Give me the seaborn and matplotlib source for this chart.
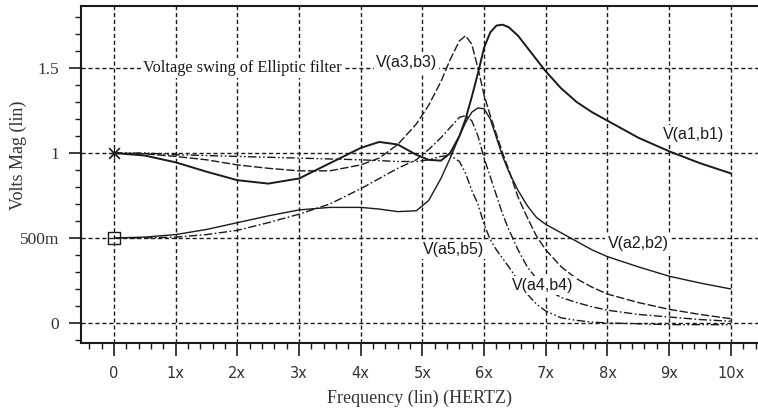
import numpy as np
import pandas as pd
import matplotlib
matplotlib.use("Agg")
import matplotlib.pyplot as plt
from matplotlib.ticker import MultipleLocator, FixedLocator, FixedFormatter
import seaborn as sns

# ---------------- data ----------------
freq = [0, 0.5, 1, 1.5, 2, 2.5, 3, 3.5, 4, 4.3, 4.6, 4.9, 5.1, 5.3, 5.45, 5.6,
        5.7, 5.8, 5.9, 6.0, 6.1, 6.2, 6.3, 6.4, 6.55, 6.7, 6.85, 7.0, 7.25,
        7.5, 7.75, 8, 8.5, 9, 9.5, 10]

v_a1b1 = [1.0, 0.985, 0.945, 0.89, 0.84, 0.82, 0.85, 0.94, 1.03, 1.065, 1.05,
          0.99, 0.96, 0.955, 1.0, 1.10, 1.20, 1.33, 1.47, 1.62, 1.71, 1.75,
          1.755, 1.74, 1.69, 1.62, 1.55, 1.48, 1.38, 1.30, 1.24, 1.19, 1.09,
          1.01, 0.94, 0.88]

v_a2b2 = [0.5, 0.505, 0.52, 0.55, 0.59, 0.63, 0.665, 0.68, 0.68, 0.67, 0.655,
          0.66, 0.72, 0.85, 0.97, 1.10, 1.18, 1.24, 1.265, 1.26, 1.20, 1.09,
          0.98, 0.89, 0.78, 0.69, 0.62, 0.58, 0.53, 0.48, 0.43, 0.39, 0.33,
          0.275, 0.235, 0.20]

v_a3b3 = [1.0, 0.995, 0.98, 0.96, 0.93, 0.91, 0.895, 0.895, 0.93, 0.97, 1.05,
          1.17, 1.28, 1.42, 1.55, 1.66, 1.69, 1.64, 1.50, 1.34, 1.22, 1.11,
          1.0, 0.90, 0.74, 0.62, 0.51, 0.43, 0.33, 0.26, 0.21, 0.17, 0.12,
          0.08, 0.05, 0.025]

v_a4b4 = [0.5, 0.5, 0.505, 0.52, 0.545, 0.59, 0.64, 0.70, 0.79, 0.85, 0.91,
          0.96, 1.02, 1.09, 1.15, 1.21, 1.22, 1.19, 1.10, 0.97, 0.86, 0.75,
          0.64, 0.55, 0.43, 0.33, 0.26, 0.20, 0.15, 0.12, 0.095, 0.075, 0.05,
          0.035, 0.02, 0.01]

v_a5b5 = [1.0, 1.0, 0.99, 0.985, 0.98, 0.975, 0.97, 0.965, 0.96, 0.955, 0.95,
          0.95, 0.96, 0.98, 0.985, 0.95, 0.88, 0.78, 0.70, 0.58, 0.49, 0.43,
          0.38, 0.33, 0.25, 0.17, 0.11, 0.07, 0.03, 0.015, 0.005, 0.0, -0.005,
          -0.01, -0.01, -0.01]

x_ticks = [0, 1, 2, 3, 4, 5, 6, 7, 8, 9, 10]
x_tick_labels = ["0", "1x", "2x", "3x", "4x", "5x", "6x", "7x", "8x", "9x", "10x"]
y_ticks = [0, 0.5, 1, 1.5]
y_tick_labels = ["0", "500m", "1", "1.5"]

series_names = ["V(a1,b1)", "V(a2,b2)", "V(a3,b3)", "V(a4,b4)", "V(a5,b5)"]
series_values = [v_a1b1, v_a2b2, v_a3b3, v_a4b4, v_a5b5]

# ---------------- style ----------------
sns.set_theme(style="white")
plt.rcParams["font.family"] = ["DejaVu Sans"]

ink = "#1a1a1a"
styles = {
    "V(a1,b1)": dict(linestyle="-", lw=1.4),
    "V(a2,b2)": dict(linestyle="-", lw=1.0),
    "V(a3,b3)": dict(linestyle=(0, (6, 1.8)), lw=1.0),
    "V(a4,b4)": dict(linestyle=(0, (6, 1.8, 1.2, 1.8)), lw=1.0),
    "V(a5,b5)": dict(linestyle=(0, (6, 1.8, 1.2, 1.8, 1.2, 1.8)), lw=1.0),
}

fig = plt.figure(figsize=(7.58, 4.13), dpi=100)
ax = fig.add_axes([81 / 758, (413 - 343) / 413, (758 - 81) / 758, (343 - 6) / 413])
ax.set_facecolor("white")

for name, vals in zip(series_names, series_values):
    df = pd.DataFrame({"freq": freq, "v": vals})
    sns.lineplot(data=df, x="freq", y="v", ax=ax, color=ink, sort=False,
                 estimator=None, zorder=3, **styles[name])

# start markers
sns.scatterplot(x=[0], y=[1.0], ax=ax, marker="x", s=60, color=ink,
                linewidth=1.2, zorder=4)
sns.scatterplot(x=[0], y=[1.0], ax=ax, marker="+", s=50, color=ink,
                linewidth=0.9, zorder=4)
sns.scatterplot(x=[0], y=[0.5], ax=ax, marker="s", s=70, facecolor="none",
                edgecolor=ink, linewidth=1.0, zorder=4)

ax.set_xlim(-0.535, 10.44)
ax.set_ylim(-0.118, 1.865)

# grid
ax.grid(True, which="major", color=ink, linestyle=(0, (3, 2)), lw=1.0)
ax.set_axisbelow(True)

# spines
for s in ["left", "top", "bottom"]:
    ax.spines[s].set_visible(True)
    ax.spines[s].set_color(ink)
    ax.spines[s].set_linewidth(1.5)
ax.spines["right"].set_visible(False)

# ticks
ax.xaxis.set_major_locator(FixedLocator(x_ticks))
ax.xaxis.set_major_formatter(FixedFormatter(x_tick_labels))
ax.xaxis.set_minor_locator(MultipleLocator(0.2))
ax.yaxis.set_major_locator(FixedLocator(y_ticks))
ax.yaxis.set_major_formatter(FixedFormatter(y_tick_labels))
ax.yaxis.set_minor_locator(MultipleLocator(0.1))

ax.tick_params(axis="x", which="major", direction="out", length=9.5, width=1.2,
               color=ink, pad=7, labelsize=10.5, labelcolor="#333333", bottom=True)
ax.tick_params(axis="x", which="minor", direction="out", length=4.5, width=1.0,
               color=ink, bottom=True)
ax.tick_params(axis="y", which="major", direction="out", length=8.5, width=1.2,
               color=ink, pad=7, labelsize=12.5, labelcolor="#333333", left=True)
ax.tick_params(axis="y", which="minor", direction="out", length=4, width=1.0,
               color=ink, left=True)
for lab in ax.get_yticklabels():
    lab.set_family(["Liberation Serif"])

ax.set_xlabel("Frequency (lin) (HERTZ)", family=["Liberation Serif"],
              fontsize=13, color="#333333", labelpad=6)
ax.set_ylabel("Volts Mag (lin)", family=["Liberation Serif"], fontsize=13,
              color="#333333", ha="center", va="center")
ax.yaxis.set_label_coords((18 - 81) / 677, (343 - 155) / 337)

# annotations
box = dict(facecolor="white", edgecolor="none", pad=1.5)
ax.text(0.47, 1.5, "Voltage swing of Elliptic filter", family=["Liberation Serif"],
        fontsize=11.7, color=ink, ha="left", va="center", bbox=box, zorder=5)

label_pos = {
    "V(a3,b3)": (4.25, 1.53),
    "V(a1,b1)": (8.90, 1.106),
    "V(a2,b2)": (8.00, 0.47),
    "V(a5,b5)": (5.01, 0.43),
    "V(a4,b4)": (6.45, 0.22),
}
for name in series_names:
    x0, y0 = label_pos[name]
    ax.text(x0, y0, name, family=["Liberation Sans"], fontsize=11.5,
            color=ink, ha="left", va="center", bbox=box, zorder=5)

fig.savefig("out.png", dpi=100, facecolor="white")
